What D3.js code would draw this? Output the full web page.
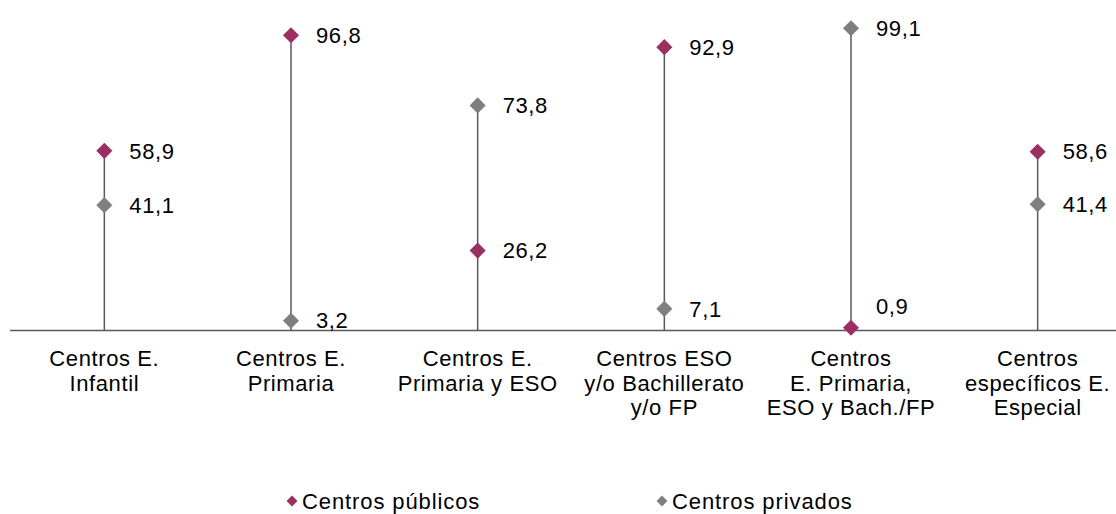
<!DOCTYPE html>
<html><head><meta charset="utf-8">
<script src="https://cdn.jsdelivr.net/npm/d3@7"></script>
<style>body{margin:0;background:#fff}svg{display:block;font-family:"Liberation Sans",Arial,sans-serif}</style>
</head><body><svg id="c" width="1116" height="514"></svg>
<script>
const categories = [
  ["Centros E.", "Infantil"],
  ["Centros E.", "Primaria"],
  ["Centros E.", "Primaria y ESO"],
  ["Centros ESO", "y/o Bachillerato", "y/o FP"],
  ["Centros", "E. Primaria,", "ESO y Bach./FP"],
  ["Centros", "específicos E.", "Especial"]
];
const publicos = [58.9, 96.8, 26.2, 92.9, 0.9, 58.6];
const privados = [41.1, 3.2, 73.8, 7.1, 99.1, 41.4];
const seriesNames = ["Centros públicos", "Centros privados"];
const colors = ["#9B2F62", "#7F7F7F"];

const svg = d3.select("#c");
const x = d3.scaleBand().domain(d3.range(categories.length)).range([11, 1131]);
const y = d3.scaleLinear().domain([0, 100]).range([330.5, 25.5]);
const fmt = v => d3.format(".1f")(v).replace(".", ",");
const diamond = d3.symbol().type(d3.symbolDiamond2).size(165);
const FS = 22, LS = 0.6;

// axis line
svg.append("line").attr("x1", 10).attr("x2", 1116).attr("y1", y(0)).attr("y2", y(0))
  .attr("stroke", "#595959").attr("stroke-width", 1.5);

// drop lines
categories.forEach((c, i) => {
  const cx = x(i) + x.bandwidth() / 2;
  const top = Math.max(publicos[i], privados[i]);
  svg.append("line").attr("x1", cx).attr("x2", cx).attr("y1", y(0)).attr("y2", y(top))
    .attr("stroke", "#595959").attr("stroke-width", 1.5);
});

[publicos, privados].forEach((vals, s) => {
  const g = svg.append("g");
  vals.forEach((v, i) => {
    const cx = x(i) + x.bandwidth() / 2;
    g.append("path").attr("d", diamond).attr("transform", `translate(${cx},${y(v)})`)
      .attr("fill", colors[s]);
    // labels of values very close to the axis are lifted above it
    const ly = v < 2 ? y(v) - 21 : y(v);
    g.append("text").attr("x", cx + 25).attr("y", ly).attr("dy", "0.35em")
      .attr("font-size", FS).attr("letter-spacing", LS).attr("fill", "#000").text(fmt(v));
  });
});

// category labels
categories.forEach((c, i) => {
  const cx = x(i) + x.bandwidth() / 2;
  const t = svg.append("text").attr("text-anchor", "middle").attr("font-size", FS)
    .attr("letter-spacing", LS).attr("fill", "#000");
  c.forEach((line, k) => {
    t.append("tspan").attr("x", cx).attr("y", 366 + k * 24.5).text(line);
  });
});

// legend
const legX = [292, 662];
seriesNames.forEach((n, s) => {
  svg.append("path").attr("d", d3.symbol().type(d3.symbolDiamond2).size(75))
    .attr("transform", `translate(${legX[s]},${501})`).attr("fill", colors[s]);
  svg.append("text").attr("x", legX[s] + 10).attr("y", 501).attr("dy", "0.35em")
    .attr("font-size", FS).attr("letter-spacing", 0.9).attr("fill", "#000").text(n);
});
</script></body></html>
